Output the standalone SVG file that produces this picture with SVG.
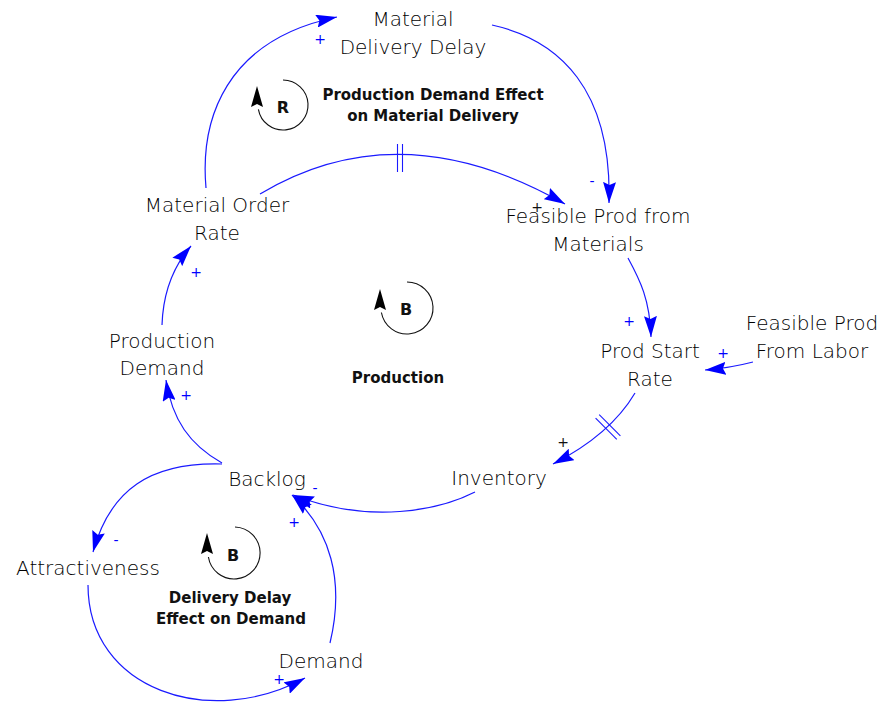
<svg xmlns="http://www.w3.org/2000/svg" width="882" height="709" viewBox="0 0 882 709">
  <style>
    .node { font-family: "DejaVu Sans", "Liberation Sans", sans-serif; font-size: 20px; font-weight: 200; fill: #000; text-anchor: middle; }
    .loop { font-family: "DejaVu Sans", "Liberation Sans", sans-serif; font-size: 15px; font-weight: bold; fill: #111; text-anchor: middle; }
    .loopid { font-family: "DejaVu Sans", "Liberation Sans", sans-serif; font-size: 16px; font-weight: bold; fill: #111; text-anchor: middle; }
    .sign { font-family: "DejaVu Sans", "Liberation Sans", sans-serif; font-size: 14px; fill: #0000ff; text-anchor: middle; }
    .sign.dark { fill: #111; }
    .link { fill: none; stroke: #1a1aff; stroke-width: 1.2; marker-end: url(#arrow); }
    .delay { stroke: #1a1aff; stroke-width: 1.1; }
    .looparc { fill: none; stroke: #111; stroke-width: 1.1; }
    .loophead { fill: #000; }
  </style>
  <defs>
    <marker id="arrow" markerUnits="userSpaceOnUse" markerWidth="21" markerHeight="13" refX="21" refY="6.5" orient="auto">
      <path d="M0,0 L21,6.5 L0,13 L3,6.5 z" fill="#0000ff"/>
    </marker>
  </defs>
  <rect width="882" height="709" fill="#ffffff"/>

  <!-- connectors -->
  <g id="connectors">
    <path class="link" d="M206,188 C200,120 225,40 337,17"/>
    <path class="link" d="M492,25 C560,40 612,90 609,203"/>
    <path class="link" d="M260,194 Q400,110 565,204"/>
    <line class="delay" x1="397.5" y1="144" x2="397.5" y2="172"/>
    <line class="delay" x1="402.5" y1="144" x2="402.5" y2="172"/>
    <path class="link" d="M628,258 C640,280 650,300 651,337"/>
    <path class="link" d="M753,362 Q730,368 705,370"/>
    <path class="link" d="M635,393 C622,415 600,440 553,464"/>
    <line class="delay" x1="595.6" y1="418.2" x2="616.8" y2="439.4"/>
    <line class="delay" x1="599.2" y1="414.6" x2="620.4" y2="435.8"/>
    <path class="link" d="M475,492 C440,510 370,525 293,495"/>
    <path class="link" d="M330,643 C345,580 330,530 292,495"/>
    <path class="link" d="M222,464 C150,462 110,490 93,552"/>
    <path class="link" d="M88,585 C88,690 210,730 305,678"/>
    <path class="link" d="M222,463 C190,445 172,420 166,380"/>
    <path class="link" d="M162,325 C163,295 172,268 191,246"/>

    <!-- polarities -->
    <text class="sign" x="320" y="44">+</text>
    <text class="sign" x="592" y="186">-</text>
    <text class="sign dark" x="537" y="212">+</text>
    <text class="sign" x="629" y="326">+</text>
    <text class="sign" x="723" y="358">+</text>
    <text class="sign dark" x="563" y="447">+</text>
    <text class="sign" x="315" y="493">-</text>
    <text class="sign" x="294" y="527">+</text>
    <text class="sign" x="186" y="400">+</text>
    <text class="sign" x="196" y="277">+</text>
    <text class="sign" x="116" y="545">-</text>
    <text class="sign" x="279" y="684">+</text>
  </g>

  <!-- variables -->
  <g id="material-delivery-delay">
    <text class="node" x="413" y="26">Material</text>
    <text class="node" x="413" y="54">Delivery Delay</text>
  </g>
  <g id="material-order-rate">
    <text class="node" x="217" y="212">Material Order</text>
    <text class="node" x="217" y="240">Rate</text>
  </g>
  <g id="feasible-prod-materials">
    <text class="node" x="598" y="223">Feasible Prod from</text>
    <text class="node" x="598" y="251">Materials</text>
  </g>
  <g id="prod-start-rate">
    <text class="node" x="650" y="358">Prod Start</text>
    <text class="node" x="650" y="386">Rate</text>
  </g>
  <g id="feasible-prod-labor">
    <text class="node" x="812" y="330">Feasible Prod</text>
    <text class="node" x="812" y="358">From Labor</text>
  </g>
  <g id="production-demand">
    <text class="node" x="162" y="348">Production</text>
    <text class="node" x="162" y="375">Demand</text>
  </g>
  <g id="backlog">
    <text class="node" x="267" y="486">Backlog</text>
  </g>
  <g id="inventory">
    <text class="node" x="499" y="485">Inventory</text>
  </g>
  <g id="attractiveness">
    <text class="node" x="88" y="575">Attractiveness</text>
  </g>
  <g id="demand">
    <text class="node" x="321" y="668">Demand</text>
  </g>

  <!-- loop markers -->
  <g id="loop-r">
    <path class="looparc" d="M283,80 A25,25 0 1 1 258.4,109.3"/>
    <path class="loophead" d="M257,86 L263,107 L257,104 L251,107 z"/>
    <text class="loopid" x="283" y="113">R</text>
    <text class="loop" x="433" y="100">Production Demand Effect</text>
    <text class="loop" x="433" y="121">on Material Delivery</text>
  </g>
  <g id="loop-b-production">
    <path class="looparc" d="M407,282 A26,26 0 1 1 381.4,312.5"/>
    <path class="loophead" d="M380,289 L386,310 L380,307 L374,310 z"/>
    <text class="loopid" x="406" y="315">B</text>
    <text class="loop" x="398" y="383">Production</text>
  </g>
  <g id="loop-b-delivery">
    <path class="looparc" d="M235,527 A26,26 0 1 1 208.4,557"/>
    <path class="loophead" d="M207,533 L213,554 L207,551 L201,554 z"/>
    <text class="loopid" x="233" y="561">B</text>
    <text class="loop" x="230" y="603">Delivery Delay</text>
    <text class="loop" x="231" y="624">Effect on Demand</text>
  </g>
</svg>
